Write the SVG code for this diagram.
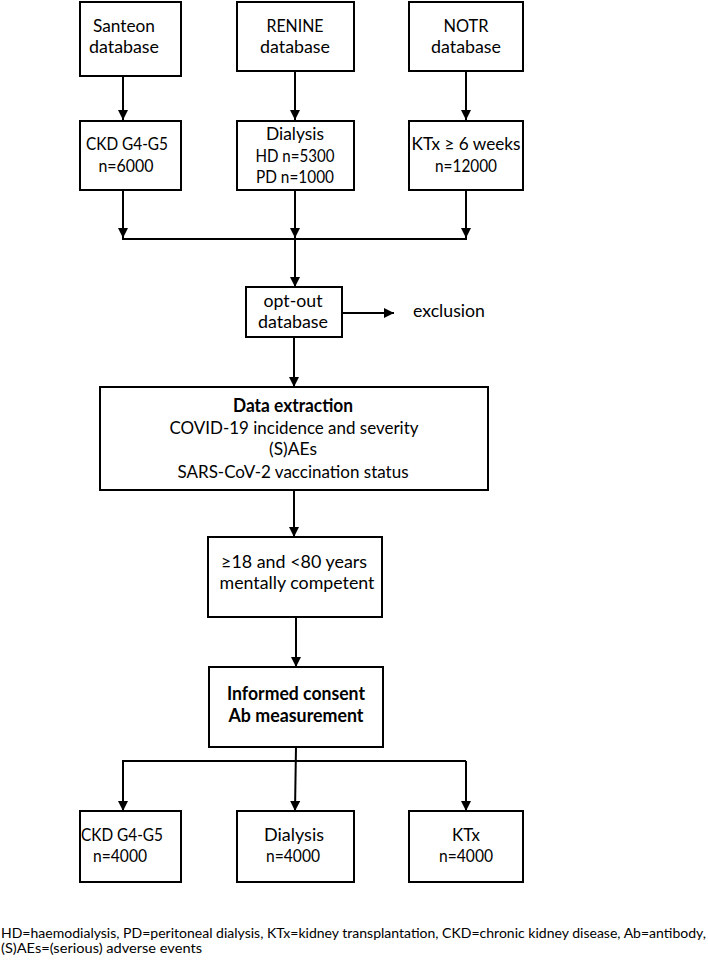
<svg xmlns="http://www.w3.org/2000/svg" width="708" height="963" viewBox="0 0 708 963">
<defs>
<style>
.box{fill:#fff;stroke:#000;stroke-width:2}
.t{font-family:Lato,"Liberation Sans",sans-serif;font-size:18px;fill:#000;text-anchor:middle}
.b{font-weight:bold}
.c{fill:none;stroke:#000;stroke-width:2}
.a{marker-end:url(#ah)}
.fn{font-family:Lato,"Liberation Sans",sans-serif;font-size:12.5px;fill:#000}
</style>
<marker id="ah" viewBox="0 0 10 10" refX="10" refY="5" markerWidth="10" markerHeight="10" markerUnits="userSpaceOnUse" orient="auto">
<path d="M0,0 L10,5 L0,10 z" fill="#000"/>
</marker>
</defs>
<rect width="708" height="963" fill="#fff"/>
<g id="connectors">
<path class="c a" d="M123,76 V120"/>
<path class="c a" d="M295,71 V120"/>
<path class="c a" d="M466,71 V120"/>
<path class="c a" d="M123,190 V238"/>
<path class="c a" d="M295,190 V238"/>
<path class="c a" d="M466,190 V238"/>
<path class="c" d="M122,239 H467"/>
<path class="c a" d="M295,239 V287"/>
<path class="c a" d="M342,313 H394"/>
<path class="c a" d="M294,337 V387"/>
<path class="c a" d="M294,490 V537"/>
<path class="c a" d="M296,617 V667"/>
<path class="c a" d="M296,747 L295,811"/>
<path class="c" d="M123,811 V761 H466"/>
<path class="c a" d="M123,761 V811"/>
<path class="c a" d="M466,761 V811"/>
</g>
<g id="santeon">
<rect class="box" x="80" y="2" width="101" height="74"/>
<text class="t" x="124" y="32" textLength="62" lengthAdjust="spacingAndGlyphs">Santeon</text>
<text class="t" x="124" y="53" textLength="70" lengthAdjust="spacingAndGlyphs">database</text>
</g>
<g id="renine">
<rect class="box" x="237" y="2" width="117" height="69"/>
<text class="t" x="295" y="32" textLength="57" lengthAdjust="spacingAndGlyphs">RENINE</text>
<text class="t" x="295" y="53" textLength="70" lengthAdjust="spacingAndGlyphs">database</text>
</g>
<g id="notr">
<rect class="box" x="409" y="2" width="114" height="69"/>
<text class="t" x="466" y="32" textLength="45" lengthAdjust="spacingAndGlyphs">NOTR</text>
<text class="t" x="466" y="53" textLength="70" lengthAdjust="spacingAndGlyphs">database</text>
</g>
<g id="ckd1">
<rect class="box" x="80" y="121" width="101" height="69"/>
<text class="t" x="127" y="150" textLength="82" lengthAdjust="spacingAndGlyphs">CKD G4-G5</text>
<text class="t" x="126" y="172" textLength="55" lengthAdjust="spacingAndGlyphs">n=6000</text>
</g>
<g id="dialysis1">
<rect class="box" x="237" y="121" width="117" height="69"/>
<text class="t" x="295" y="140" textLength="58" lengthAdjust="spacingAndGlyphs">Dialysis</text>
<text class="t" x="295" y="162" textLength="79" lengthAdjust="spacingAndGlyphs">HD n=5300</text>
<text class="t" x="295" y="183" textLength="78" lengthAdjust="spacingAndGlyphs">PD n=1000</text>
</g>
<g id="ktx1">
<rect class="box" x="409" y="121" width="114" height="69"/>
<text class="t" x="466" y="150" textLength="109" lengthAdjust="spacingAndGlyphs">KTx ≥ 6 weeks</text>
<text class="t" x="466" y="172" textLength="62" lengthAdjust="spacingAndGlyphs">n=12000</text>
</g>
<g id="optout">
<rect class="box" x="246" y="287" width="96" height="50"/>
<text class="t" x="293" y="307" textLength="59" lengthAdjust="spacingAndGlyphs">opt-out</text>
<text class="t" x="293" y="328" textLength="70" lengthAdjust="spacingAndGlyphs">database</text>
</g>
<g id="exclusion">
<text class="t" x="413" y="317" style="text-anchor:start" textLength="72" lengthAdjust="spacingAndGlyphs">exclusion</text>
</g>
<g id="extraction">
<rect class="box" x="100" y="387" width="388" height="103"/>
<text class="t b" x="293" y="412" textLength="120" lengthAdjust="spacingAndGlyphs">Data extraction</text>
<text class="t" x="294" y="434" textLength="249" lengthAdjust="spacingAndGlyphs">COVID-19 incidence and severity</text>
<text class="t" x="293" y="455" textLength="48" lengthAdjust="spacingAndGlyphs">(S)AEs</text>
<text class="t" x="293" y="478" textLength="231" lengthAdjust="spacingAndGlyphs">SARS-CoV-2 vaccination status</text>
</g>
<g id="criteria">
<rect class="box" x="208" y="537" width="174" height="80"/>
<text class="t" x="294" y="568" textLength="146" lengthAdjust="spacingAndGlyphs">≥18 and &lt;80 years</text>
<text class="t" x="297" y="589" textLength="155" lengthAdjust="spacingAndGlyphs">mentally competent</text>
</g>
<g id="consent">
<rect class="box" x="209" y="667" width="174" height="80"/>
<text class="t b" x="296" y="700" textLength="138" lengthAdjust="spacingAndGlyphs">Informed consent</text>
<text class="t b" x="296" y="722" textLength="135" lengthAdjust="spacingAndGlyphs">Ab measurement</text>
</g>
<g id="ckd2">
<rect class="box" x="80" y="811" width="101" height="71"/>
<text class="t" x="122" y="841" textLength="82" lengthAdjust="spacingAndGlyphs">CKD G4-G5</text>
<text class="t" x="120" y="862" textLength="54" lengthAdjust="spacingAndGlyphs">n=4000</text>
</g>
<g id="dialysis2">
<rect class="box" x="237" y="811" width="117" height="71"/>
<text class="t" x="294" y="841" textLength="60" lengthAdjust="spacingAndGlyphs">Dialysis</text>
<text class="t" x="293" y="862" textLength="54" lengthAdjust="spacingAndGlyphs">n=4000</text>
</g>
<g id="ktx2">
<rect class="box" x="409" y="811" width="114" height="71"/>
<text class="t" x="466" y="841" textLength="28" lengthAdjust="spacingAndGlyphs">KTx</text>
<text class="t" x="466" y="862" textLength="54" lengthAdjust="spacingAndGlyphs">n=4000</text>
</g>
<g id="footnote">
<text class="fn" x="1" y="938" textLength="705" lengthAdjust="spacingAndGlyphs">HD=haemodialysis, PD=peritoneal dialysis, KTx=kidney transplantation, CKD=chronic kidney disease, Ab=antibody,</text>
<text class="fn" x="1" y="953" textLength="201" lengthAdjust="spacingAndGlyphs">(S)AEs=(serious) adverse events</text>
</g>
</svg>
